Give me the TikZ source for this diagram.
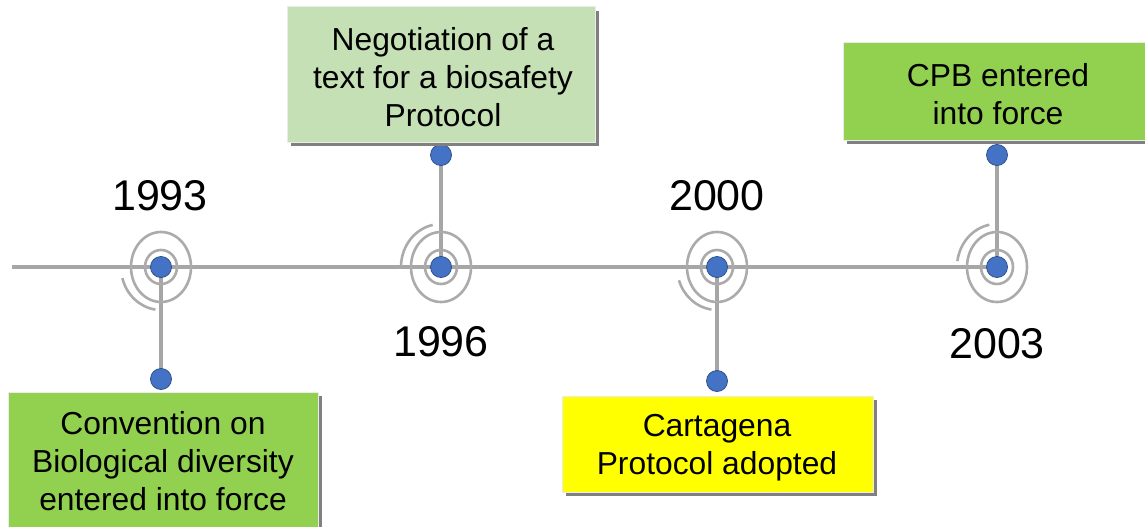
\documentclass[tikz,border=0pt]{standalone}
\usepackage{fontspec}
\setmainfont{Liberation Sans}
\usetikzlibrary{shadows}
\definecolor{linegray}{HTML}{A6A6A6}
\definecolor{ringgray}{HTML}{ABABAB}
\definecolor{dotblue}{HTML}{4472C4}
\definecolor{dotedge}{HTML}{2F528F}
\definecolor{greenA}{HTML}{92D050}
\definecolor{greenB}{HTML}{C5E0B4}
\definecolor{yellowA}{HTML}{FFFF00}
\pgfdeclarelayer{bg}
\pgfsetlayers{bg,main}
\begin{document}
\begin{tikzpicture}[x=1pt,y=-1pt,
  dot/.style={circle,fill=dotblue,draw=dotedge,line width=0.8pt,minimum size=21pt,inner sep=0pt},
  tline/.style={draw=linegray,line width=4pt},
  ring/.style={draw=ringgray,line width=2.6pt},
  evbox/.style={rectangle,draw=black!8,line width=1pt,align=center,inner sep=0pt,
    drop shadow={shadow xshift=4pt,shadow yshift=-4pt,fill=black!50,opacity=1}},
  evtext/.style={font=\fontsize{31.8}{38}\selectfont,align=center,inner sep=0pt},
  year/.style={font=\fontsize{43}{48}\selectfont,inner sep=0pt}]
\clip (0,0) rectangle (1145,527);
\useasboundingbox (0,0) rectangle (1145,527);

% rings
\foreach \x/\a/\b in {161/165/98, 441/258/182, 717/162/98, 997/259/188}{
  \draw[ring] (\x,267) ellipse [x radius=16, y radius=17];
  \draw[ring] (\x,267) ellipse [x radius=30, y radius=35];
  \draw[ring] (\x,267) ++(\a:40 and 43) arc [start angle=\a, end angle=\b, x radius=40, y radius=43];
}

% dots
\node[dot] (c1) at (161,267) {};
\node[dot] (c2) at (441,267) {};
\node[dot] (c3) at (717,267) {};
\node[dot] (c4) at (997,267) {};
\node[dot] (e1) at (161,379) {};
\node[dot] (e2) at (441,155) {};
\node[dot] (e3) at (717,381) {};
\node[dot] (e4) at (997,155) {};
\coordinate (start) at (12,267);

\begin{pgfonlayer}{bg}
\draw[tline] (start) -- (c4.center);
\draw[tline] (c1.center) -- (e1.center);
\draw[tline] (c2.center) -- (e2.center);
\draw[tline] (c3.center) -- (e3.center);
\draw[tline] (c4.center) -- (e4.center);
\end{pgfonlayer}

% boxes
\node[evbox,fill=greenA,minimum width=310pt,minimum height=143pt] (b1) at (163,463.5) {};
\node[evtext] (t1) at (163,461.5) {Convention on\\Biological diversity\\entered into force};
\node[evbox,fill=greenB,minimum width=308pt,minimum height=135pt] (b2) at (441,74.5) {};
\node[evtext] (t2) at (443,77) {Negotiation of a\\text for a biosafety\\Protocol};
\node[evbox,fill=yellowA,minimum width=311pt,minimum height=96pt] (b3) at (717.5,444) {};
\node[evtext] (t3) at (717,447.5) {Cartagena\\Protocol adopted};
\node[evbox,fill=greenA,minimum width=309pt,minimum height=97pt] (b4) at (997.5,91.5) {};
\node[evtext] (t4) at (998,94) {CPB entered\\into force};

% years
\node[year] (y1) at (160,196) {1993};
\node[year] (y2) at (441,342) {1996};
\node[year] (y3) at (717,196) {2000};
\node[year] (y4) at (997,344) {2003};
\end{tikzpicture}
\end{document}
